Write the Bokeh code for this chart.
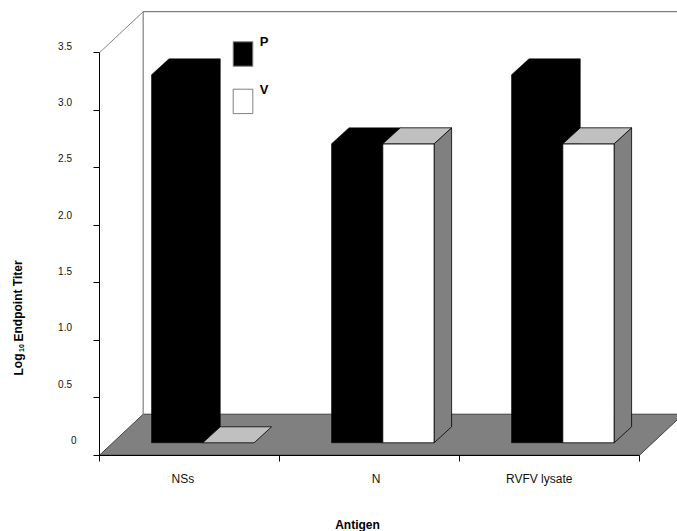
from bokeh.plotting import figure
from bokeh.models import LinearAxis, FixedTicker, Range1d
from bokeh.core.properties import value
from bokeh.embed import file_html
from bokeh.resources import INLINE

# ---- data ----
categories = ["NSs", "N", "RVFV lysate"]
series_names = ["P", "V"]
p_values = [3.2, 2.6, 3.2]
v_values = [0.0, 2.6, 2.6]
y_ticks = [0, 0.5, 1.0, 1.5, 2.0, 2.5, 3.0, 3.5]
y_tick_labels = ["0", "0.5", "1.0", "1.5", "2.0", "2.5", "3.0", "3.5"]
x_title = "Antigen"
y_title_parts = ["Log", "10", "Endpoint Titer"]

# ---- layout (window pixels) ----
W, H = 677, 531
MARGIN = 0
PX_PER_CAT, PX_PER_UNIT = 180.0, 115.0
X0_PX, Y0_PX = 99.0, 454.7


def xd(px):
    return (px - X0_PX) / PX_PER_CAT


def yd(py):
    return (Y0_PX - py) / PX_PER_UNIT


WALL_DX, WALL_DY = 43.7 / PX_PER_CAT, 41.0 / PX_PER_UNIT
BAR_DX, BAR_DY = 17.5 / PX_PER_CAT, 16.0 / PX_PER_UNIT
BASE_Y = 12.4 / PX_PER_UNIT
BAR_START, BAR_W = 0.2889, 0.285
Y_MAX = y_ticks[-1]
N_CAT = len(categories)

p = figure(width=W, height=H, output_backend="svg", toolbar_location=None,
           x_range=Range1d(xd(MARGIN), xd(MARGIN + W)),
           y_range=Range1d(yd(MARGIN + H), yd(MARGIN)),
           x_axis_type=None, y_axis_type=None, min_border=0,
           outline_line_color=None, background_fill_color="white")
p.grid.visible = False

# floor and back wall
p.patch([0, N_CAT, N_CAT + WALL_DX, WALL_DX], [0, 0, WALL_DY, WALL_DY],
        fill_color="#808080", line_color="#404040", line_width=1)
p.line([0, WALL_DX], [Y_MAX, Y_MAX + WALL_DY], line_color="#808080", line_width=1)
p.line([WALL_DX, WALL_DX, N_CAT + WALL_DX], [WALL_DY, Y_MAX + WALL_DY, Y_MAX + WALL_DY],
       line_color="#808080", line_width=1.2)


# bars
def hexagon(x, w, v):
    t = BASE_Y + v
    b = BASE_Y
    return ([x, x, x + BAR_DX, x + w + BAR_DX, x + w + BAR_DX, x + w],
            [b, t, t + BAR_DY, t + BAR_DY, b + BAR_DY, b])


for i in range(N_CAT):
    xp = i + BAR_START
    xs, ys = hexagon(xp, BAR_W, p_values[i])
    p.patch(xs, ys, fill_color="black", line_color="black", line_width=0.5)

    xv = xp + BAR_W
    v = v_values[i]
    t = BASE_Y + v
    if v > 0:
        # side face
        p.patch([xv + BAR_W, xv + BAR_W + BAR_DX, xv + BAR_W + BAR_DX, xv + BAR_W],
                [BASE_Y, BASE_Y + BAR_DY, t + BAR_DY, t],
                fill_color="#808080", line_color="black", line_width=0.8)
        # front face
        p.patch([xv, xv + BAR_W, xv + BAR_W, xv], [BASE_Y, BASE_Y, t, t],
                fill_color="white", line_color="black", line_width=0.8)
    # top face
    p.patch([xv, xv + BAR_W, xv + BAR_W + BAR_DX, xv + BAR_DX],
            [t, t, t + BAR_DY, t + BAR_DY],
            fill_color="#c0c0c0", line_color="black", line_width=0.8)

# axes
yax = LinearAxis(fixed_location=0, ticker=FixedTicker(ticks=y_ticks), bounds=(0, Y_MAX),
                 major_label_overrides={t: "" for t in y_ticks})
xax = LinearAxis(fixed_location=0, ticker=FixedTicker(ticks=list(range(N_CAT + 1))), bounds=(0, N_CAT),
                 major_label_overrides={t: "" for t in range(N_CAT + 1)})
for ax in (yax, xax):
    ax.major_tick_in = 0
    ax.major_tick_out = 6
    ax.minor_tick_line_color = None
    ax.axis_line_color = "black"
    ax.major_tick_line_color = "black"
    ax.axis_line_width = 1
p.add_layout(yax, "left")
p.add_layout(xax, "below")

FONT = value("Liberation Sans")

# y tick labels: the reference's labels sit on their own, slightly tighter spacing
tick_label_y_px = [439.5, 383.0, 326.7, 270.0, 214.7, 157.7, 101.7, 45.7]
for t, lab, ly in zip(y_ticks, y_tick_labels, tick_label_y_px):
    right_px = 76.0 if t == 0 else 71.5
    p.text([xd(right_px)], [yd(ly)], text=[lab], text_align="right",
           text_baseline="middle", text_font=FONT, text_font_size="10px", text_color="#111111")

# category labels
cat_label_px = [182.3, 375.7, 538.7]
p.text([xd(c) for c in cat_label_px], [yd(478.7)] * N_CAT, text=categories, text_align="center",
       text_baseline="middle", text_font=FONT, text_font_size="12px", text_color="#111111")

# titles
p.text([xd(357.0)], [yd(524.5)], text=[x_title], text_align="center", text_baseline="middle",
       text_font=FONT, text_font_size="12px", text_font_style="bold", text_color="black")
title_x_px = [18.0, 21.0, 18.0]
title_y_px = [375.0, 351.5, 341.0]
title_sizes = ["12px", "7px", "12px"]
for part, tx, ty, size in zip(y_title_parts, title_x_px, title_y_px, title_sizes):
    p.text([xd(tx)], [yd(ty)], text=[part], angle=1.5708, text_align="left",
           text_baseline="middle", text_font=FONT, text_font_size=size, text_font_style="bold",
           text_color="black")

# legend
legend_fill = ["black", "white"]
legend_top_px = [41.3, 88.7]
legend_h = 24.4
for name, fill, top in zip(series_names, legend_fill, legend_top_px):
    p.quad(left=[xd(232.7)], right=[xd(252.3)], top=[yd(top)], bottom=[yd(top + legend_h)],
           fill_color=fill, line_color="#808080", line_width=1)
    p.text([xd(259.2)], [yd(top)], text=[name], text_align="left", text_baseline="middle",
           text_font=FONT, text_font_size="13px", text_font_style="bold", text_color="black")

open("out.html", "w").write(file_html(p, INLINE))
